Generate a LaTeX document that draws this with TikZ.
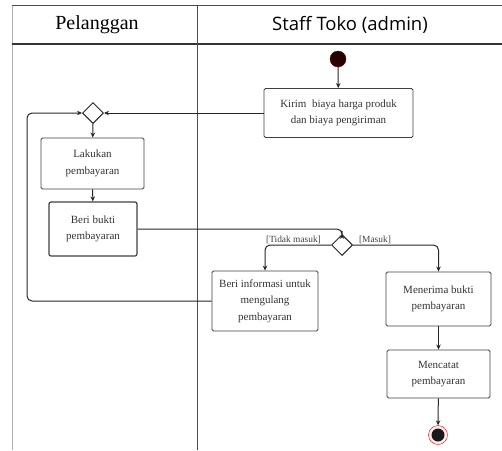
\documentclass[tikz,border=0pt]{standalone}
\usepackage{fontspec}
\setmainfont{Liberation Serif}
\newfontfamily\headsans{Open Sans}
\usetikzlibrary{arrows.meta,shapes.geometric}

\tikzset{
  act/.style={draw=black!75, line width=0.9pt, rectangle, rounded corners=1.5pt, align=center,
    font=\fontsize{11}{16.5}\selectfont, text=black!80, inner sep=0pt},
  gate/.style={draw=black!85, diamond, aspect=1, minimum size=21pt, inner sep=0pt, line width=1pt},
  flow/.style={draw=black!85, line width=1pt, -{Stealth[length=5pt,width=4.5pt]}, rounded corners=5pt},
  guard/.style={font=\fontsize{9.4}{10}\selectfont, text=black!75}
}

\begin{document}
\begin{tikzpicture}[x=1pt,y=-1pt]
\useasboundingbox (0,0) rectangle (502,450);

% swimlanes
\draw[black!30] (12,5) -- (12,450);
\draw[black!70] (12,5) -- (502,5);
\draw[black!80, line width=1.2pt] (12,44) -- (502,44);
\draw[black!70, line width=1pt] (197,5) -- (197,450);
\node (lane1) at (97,25) {\fontsize{20}{22}\selectfont Pelanggan};
\node (lane2) at (350,25) {\headsans\fontsize{18.5}{22}\selectfont Staff Toko (admin)};

% start
\node[circle, fill=black!85!red, draw=red!40!black, minimum size=16pt, inner sep=0pt] (start) at (338,59) {};

% actions
\node[act, minimum width=149pt, minimum height=49pt] (kirim) at (338.5,113) {Kirim\ \ biaya harga produk\\dan biaya pengiriman};
\node[gate] (merge) at (93,113) {};
\node[act, minimum width=103pt, minimum height=51pt] (lakukan) at (92.5,163.5) {Lakukan\\pembayaran};
\node[act, line width=1.2pt, rounded corners=2pt, minimum width=88pt, minimum height=54pt] (bukti) at (93,229) {Beri bukti\\pembayaran};
\node[gate] (cek) at (342,245) {};
\node[guard] (tidak) at (293.5,240) {[Tidak masuk]};
\node[guard] (masuk) at (375,240) {[Masuk]};
\node[act, minimum width=106pt, minimum height=60pt] (info) at (265,301) {Beri informasi untuk\\mengulang\\pembayaran};
\node[act, minimum width=105pt, minimum height=54pt] (terima) at (438.5,299) {Menerima bukti\\pembayaran};
\node[act, minimum width=103pt, minimum height=48pt] (catat) at (438.5,374) {Mencatat\\pembayaran};

% end
\node[circle, draw=red!80!black, fill=red!8, minimum size=19pt, inner sep=0pt] (finish) at (438,435) {};
\fill[black!90] (finish) circle (6.5pt);

\coordinate (loop) at (27,301);

% flows
\draw[flow] (start) -- (kirim);
\draw[flow] (kirim.west) -- (merge.east);
\draw[flow] (merge) -- (lakukan);
\draw[flow] (lakukan) -- (bukti);
\draw[flow] (bukti.east) -| (cek.north);
\draw[flow] (cek.west) -| (info.north);
\draw[flow] (cek.east) -| (terima.north);
\draw[flow] (info.west) -- (loop) |- (merge.west);
\draw[flow] (terima) -- (catat);
\draw[flow] (catat) -- (finish);
\end{tikzpicture}
\end{document}
